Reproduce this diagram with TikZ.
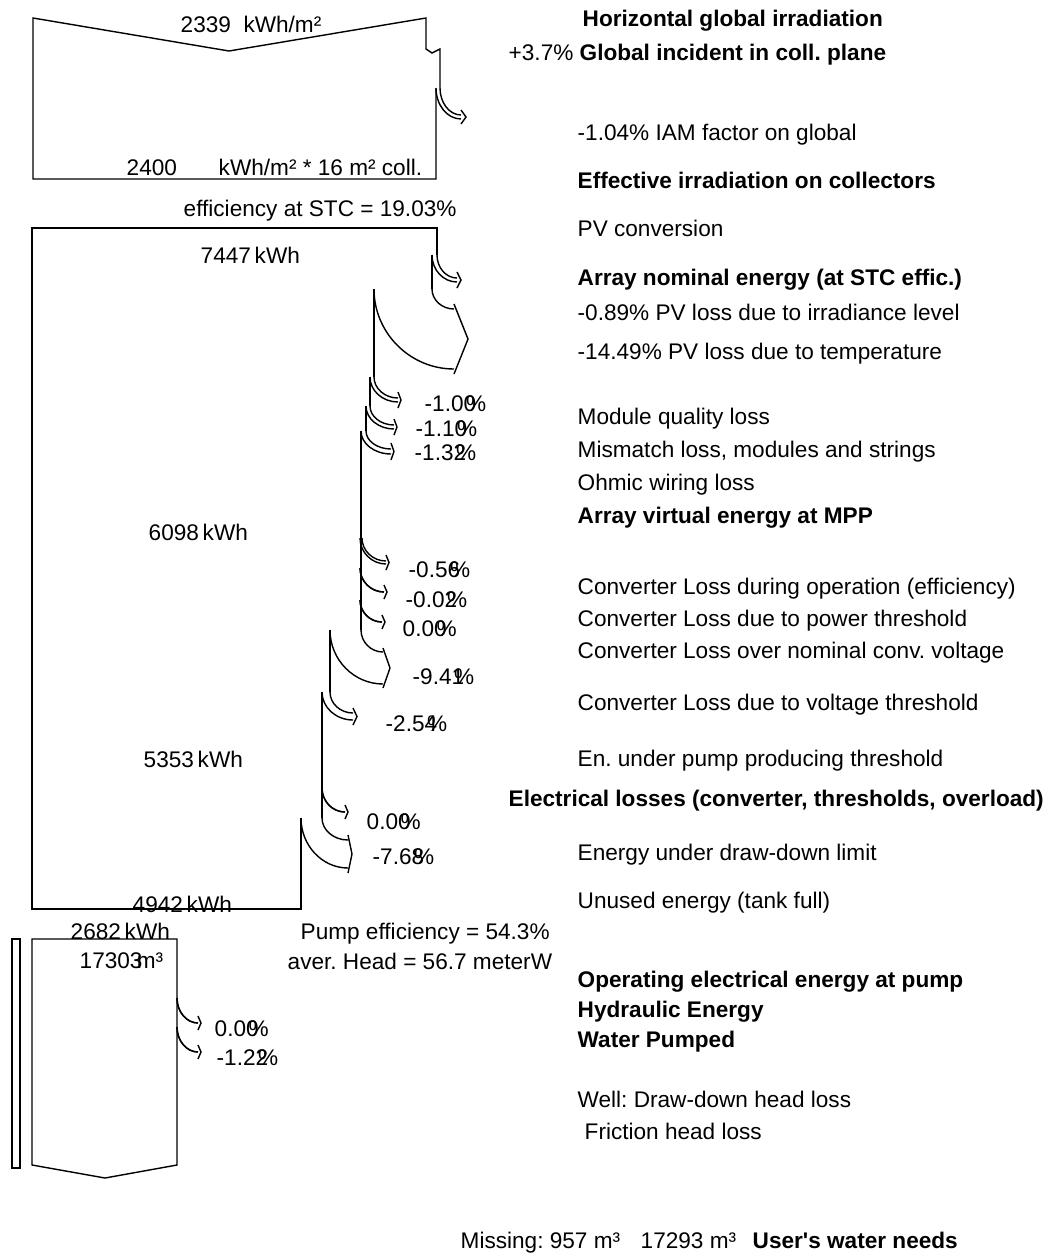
\documentclass[tikz,border=0pt]{standalone}
\usepackage{fontspec}
\setmainfont{Liberation Sans}
\frenchspacing
\newcommand\lossarr[8]{% xo xi y0 xe yo yi xt e
  \pgfmathsetmacro\LAa{#3+0.55*(#5-#3)}%
  \pgfmathsetmacro\LAb{#4-0.55*(#4-#1)}%
  \pgfmathsetmacro\LAc{#3+0.55*(#6-#3)}%
  \pgfmathsetmacro\LAd{#4-0.55*(#4-#2)}%
  \pgfmathsetmacro\LAm{(#5+#6)/2}%
  \pgfmathsetmacro\LAt{#5-#8}%
  \pgfmathsetmacro\LAu{#6+#8}%
  \draw (#1,#3) .. controls (#1,\LAa) and (\LAb,#5) .. (#4,#5);
  \draw (#2,#3) .. controls (#2,\LAc) and (\LAd,#6) .. (#4,#6);
  \draw (#4,\LAt) -- (#7,\LAm) -- (#4,\LAu);
}
\newcommand\pct[1]{#1\kern-0.45em\%}
\begin{document}
\frenchspacing
\begin{tikzpicture}[x=0.5pt,y=-0.5pt,line width=0.7pt,line join=miter,
  font=\fontsize{11.3}{13}\selectfont\frenchspacing,
  lbl/.style={anchor=base west,inner sep=0pt},
  bl/.style={lbl,font=\fontsize{11.3}{13}\selectfont\frenchspacing\bfseries}]
\useasboundingbox (0,0) rectangle (1047,1254);

% ---- irradiation box
\draw (440,88) -- (440,49) -- (432,53) -- (426,49) -- (426,18) -- (229,51) -- (33,18) -- (33,179) -- (436,179) -- (436,88);
\lossarr{440}{436}{88}{461}{115}{119}{466}{5}

% ---- array energy box
\draw (437,255) -- (437,228) -- (32,228) -- (32,909) -- (301,909) -- (301,818);
\lossarr{437}{432}{255}{457}{278}{282}{461}{6}
\draw (432,255) -- (432,289);
\lossarr{432}{374}{289}{454}{309}{369}{468}{5}
\draw (374,289) -- (374,377);
\lossarr{374}{370}{377}{398}{398}{402}{401}{6}
\draw (370,377) -- (370,406);
\lossarr{370}{366}{406}{394}{425}{429}{397}{6}
\draw (366,406) -- (366,431);
\lossarr{366}{361}{431}{391}{449}{454}{394}{6}
\draw (361,431) -- (361,630);
\lossarr{362}{360}{538}{386}{561}{564}{389}{6}
\lossarr{360}{360}{568}{384}{592}{592}{387}{7}
\lossarr{360}{360}{600}{382}{622}{622}{385}{7}
\lossarr{361}{330}{630}{383}{652}{684}{390}{4}
\draw (330,630) -- (330,692);
\lossarr{330}{322}{692}{353}{713}{720}{357}{5}
\draw (322,692) -- (322,818);
\lossarr{322}{322}{788}{345}{812}{812}{348}{7}
\lossarr{322}{301}{818}{348}{840}{868}{352}{5}

% ---- pump box
\draw (32,939) -- (177,939) -- (177,1165) -- (105,1178) -- (32,1165) -- cycle;
\draw (12,939) rectangle (20,1168);
\lossarr{177}{177}{998}{198}{1023}{1023}{201}{7}
\lossarr{177}{177}{1027}{198}{1052}{1052}{201}{7}

% ---- labels inside the flow
\node[lbl] (a1) at (180,32) {2339\ \ kWh/m²};
\node[lbl] (a2) at (126,175) {2400};
\node[lbl] (a3) at (218,175) {kWh/m² * 16 m² coll.};
\node[lbl] (a4) at (183,216) {efficiency at STC = 19.03\%};
\node[lbl] (a5) at (200,263) {7447\,kWh};
\node[lbl] (a6) at (148,540) {6098\,kWh};
\node[lbl] (a7) at (143,767) {5353\,kWh};
\node[lbl] (a8) at (132,912) {4942\,kWh};
\node[lbl] (a9) at (70,939) {2682\,kWh};
\node[lbl] (a10) at (79,968) {17303\kern-0.25em m³};
\node[lbl] (a11) at (300,939) {Pump efficiency = 54.3\%};
\node[lbl] (a12) at (287,969) {aver. Head = 56.7 meterW};

% ---- percentages
\node[lbl] (p1) at (424,411) {\pct{-1.00}};
\node[lbl] (p2) at (415,436) {\pct{-1.10}};
\node[lbl] (p3) at (414,460) {\pct{-1.32}};
\node[lbl] (p4) at (408,577) {\pct{-0.56}};
\node[lbl] (p5) at (405,607) {\pct{-0.02}};
\node[lbl] (p6) at (402,636) {\pct{0.00}};
\node[lbl] (p7) at (412,684) {\pct{-9.41}};
\node[lbl] (p8) at (385,731) {\pct{-2.54}};
\node[lbl] (p9) at (366,829) {\pct{0.00}};
\node[lbl] (p10) at (372,864) {\pct{-7.68}};
\node[lbl] (p11) at (214,1036) {\pct{0.00}};
\node[lbl] (p12) at (216,1065) {\pct{-1.22}};

% ---- right-hand legend
\node[bl] (r1) at (582,26) {Horizontal global irradiation};
\node[lbl] (r2) at (508,60) {+3.7\% \textbf{Global incident in coll. plane}};
\node[lbl] (r3) at (577,140) {-1.04\% IAM factor on global};
\node[bl] (r4) at (577,188) {Effective irradiation on collectors};
\node[lbl] (r5) at (577,236) {PV conversion};
\node[bl] (r6) at (577,285) {Array nominal energy (at STC effic.)};
\node[lbl] (r7) at (577,320) {-0.89\% PV loss due to irradiance level};
\node[lbl] (r8) at (577,359) {-14.49\% PV loss due to temperature};
\node[lbl] (r9) at (577,424) {Module quality loss};
\node[lbl] (r10) at (577,457) {Mismatch loss, modules and strings};
\node[lbl] (r11) at (577,490) {Ohmic wiring loss};
\node[bl] (r12) at (577,523) {Array virtual energy at MPP};
\node[lbl] (r13) at (577,594) {Converter Loss during operation (efficiency)};
\node[lbl] (r14) at (577,626) {Converter Loss due to power threshold};
\node[lbl] (r15) at (577,658) {Converter Loss over nominal conv. voltage};
\node[lbl] (r16) at (577,710) {Converter Loss due to voltage threshold};
\node[lbl] (r17) at (577,766) {En. under pump producing threshold};
\node[bl] (r18) at (508,806) {Electrical losses (converter, thresholds, overload)};
\node[lbl] (r19) at (577,860) {Energy under draw-down limit};
\node[lbl] (r20) at (577,908) {Unused energy (tank full)};
\node[bl] (r21) at (577,987) {Operating electrical energy at pump};
\node[bl] (r22) at (577,1017) {Hydraulic Energy};
\node[bl] (r23) at (577,1047) {Water Pumped};
\node[lbl] (r24) at (577,1107) {Well: Draw-down head loss};
\node[lbl] (r25) at (584,1139) {Friction head loss};
\node[lbl] (r26) at (460,1248) {Missing: 957 m³};
\node[lbl] (r27) at (640,1248) {17293 m³};
\node[bl] (r28) at (752,1248) {User\textquotesingle s water needs};
\end{tikzpicture}
\end{document}
